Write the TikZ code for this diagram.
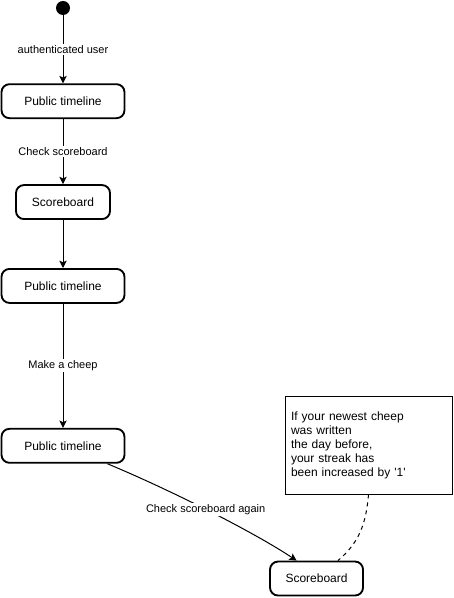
\documentclass[tikz,border=0pt]{standalone}
\usepackage{fontspec}
\setmainfont{Liberation Sans}
\usetikzlibrary{positioning,arrows.meta}
\tikzset{
	state/.style={draw=black, line width=1.4pt, rounded corners=6pt, minimum height=25.5pt, font=\fontsize{9}{10.5}\selectfont},
	trans/.style={draw=black, line width=0.75pt, -{Stealth[length=5.5pt, width=5.5pt, inset=1.2pt]}},
	lbl/.style={fill=white, inner sep=1pt, font=\fontsize{8.25}{10}\selectfont},
	memo/.style={draw=black, line width=0.75pt, align=left, inner sep=4.5pt, text width=116.25pt, minimum height=73.5pt, font=\fontsize{9}{10.5}\selectfont}
}

\begin{document}
\begin{tikzpicture}[node distance=51pt]
		\useasboundingbox (0,0) rectangle (339.75pt,-448.5pt);
		\node[circle, fill=black, minimum size=10.5pt, inner sep=0pt] (init) at (47.25pt,-6pt) {};
		\node[state, minimum width=92.25pt, below=of init] (t1) {Public timeline};
		\node[state, minimum width=70.5pt, below=48.75pt of t1] (s1) {Scoreboard};
		\node[state, minimum width=92.25pt, below=36pt of s1] (t2) {Public timeline};
		\node[state, minimum width=92.25pt, below=93pt of t2] (t3) {Public timeline};

		\node[state, minimum width=69.75pt] (s2) at (237.4pt,-433.9pt) {Scoreboard};
		\node[memo] (note) at (276.4pt,-333.75pt) {If your newest cheep\\was written\\the day before,\\your streak has\\been increased by \textquotesingle 1\textquotesingle};

		\draw[trans] (init) -- node[lbl] {authenticated user} (t1);
		\draw[trans] (t1) -- node[lbl] {Check scoreboard} (s1);
		\draw[trans] (s1) -- (t2);
		\draw[trans] (t2) -- node[lbl] {Make a cheep} (t3);
		\draw[trans] (t3.-22) .. controls (131.25pt,-369pt) and (191.25pt,-399.75pt) .. node[lbl, pos=0.47] {Check scoreboard again} (s2.138);
		\draw[dashed, line width=0.75pt] (note.south) to[out=-95, in=40] (s2.40);
	\end{tikzpicture}
\end{document}
